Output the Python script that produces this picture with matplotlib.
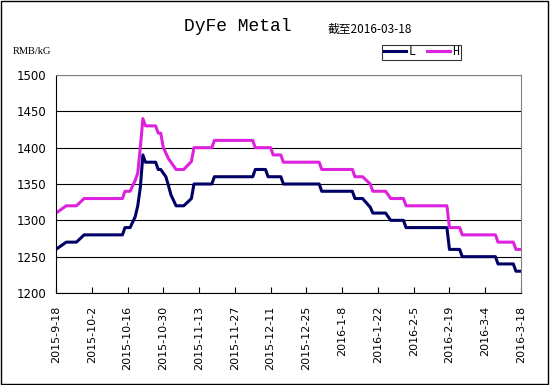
import matplotlib
matplotlib.use("Agg")
import matplotlib.pyplot as plt
import pandas as pd

# breakpoints (date, price RMB/kG)
l_dates = ["2015-09-18", "2015-09-22", "2015-09-26", "2015-09-29", "2015-10-14",
           "2015-10-15", "2015-10-17", "2015-10-19", "2015-10-20", "2015-10-21",
           "2015-10-22", "2015-10-23", "2015-10-27", "2015-10-28", "2015-10-29",
           "2015-10-31", "2015-11-01", "2015-11-02", "2015-11-04", "2015-11-07",
           "2015-11-10", "2015-11-11", "2015-11-18", "2015-11-19", "2015-12-04",
           "2015-12-05", "2015-12-09", "2015-12-10", "2015-12-15", "2015-12-16",
           "2015-12-30", "2015-12-31", "2016-01-12", "2016-01-13", "2016-01-16",
           "2016-01-19", "2016-01-20", "2016-01-25", "2016-01-27", "2016-02-01",
           "2016-02-02", "2016-02-18", "2016-02-19", "2016-02-23", "2016-02-24",
           "2016-03-08", "2016-03-09", "2016-03-15", "2016-03-16", "2016-03-18"]
l_vals = [1260, 1270, 1270, 1280, 1280,
          1290, 1290, 1305, 1320, 1345,
          1390, 1380, 1380, 1370, 1370,
          1360, 1348, 1335, 1320, 1320,
          1330, 1350, 1350, 1360, 1360,
          1370, 1370, 1360, 1360, 1350,
          1350, 1340, 1340, 1330, 1330,
          1318, 1310, 1310, 1300, 1300,
          1290, 1290, 1260, 1260, 1250,
          1250, 1240, 1240, 1230, 1230]

h_dates = ["2015-09-18", "2015-09-22", "2015-09-26", "2015-09-29", "2015-10-14",
           "2015-10-15", "2015-10-17", "2015-10-19", "2015-10-20", "2015-10-21",
           "2015-10-22", "2015-10-23", "2015-10-27", "2015-10-28", "2015-10-29",
           "2015-10-30", "2015-11-01", "2015-11-04", "2015-11-07", "2015-11-10",
           "2015-11-11", "2015-11-18", "2015-11-19", "2015-12-04", "2015-12-05",
           "2015-12-11", "2015-12-12", "2015-12-15", "2015-12-16", "2015-12-30",
           "2015-12-31", "2016-01-12", "2016-01-13", "2016-01-16", "2016-01-19",
           "2016-01-20", "2016-01-25", "2016-01-27", "2016-02-01", "2016-02-02",
           "2016-02-18", "2016-02-19", "2016-02-23", "2016-02-24", "2016-03-08",
           "2016-03-09", "2016-03-15", "2016-03-16", "2016-03-18"]
h_vals = [1310, 1320, 1320, 1330, 1330,
          1340, 1340, 1355, 1365, 1400,
          1440, 1430, 1430, 1420, 1420,
          1400, 1385, 1370, 1370, 1381,
          1400, 1400, 1410, 1410, 1400,
          1400, 1390, 1390, 1380, 1380,
          1370, 1370, 1360, 1360, 1350,
          1340, 1340, 1330, 1330, 1320,
          1320, 1290, 1290, 1280, 1280,
          1270, 1270, 1260, 1260]

tick_dates = pd.date_range("2015-09-18", "2016-03-18", freq="14D")
tick_labels = [f"{d.year}-{d.month}-{d.day}" for d in tick_dates]
y_ticks = [1200, 1250, 1300, 1350, 1400, 1450, 1500]

fig = plt.figure(figsize=(5.5, 3.85), dpi=100)
ax = fig.add_axes([56 / 550, 1 - 293 / 385, 465 / 550, 218 / 385])

ax.plot(pd.to_datetime(l_dates), l_vals, color="#000066", lw=2.2, label="L")
ax.plot(pd.to_datetime(h_dates), h_vals, color="#DD22DD", lw=2.2, label="H")

ax.set_ylim(1200, 1500)
ax.set_yticks(y_ticks)
ax.set_xlim(tick_dates[0], tick_dates[-1])
ax.set_xticks(tick_dates)
ax.set_xticklabels(tick_labels, rotation=90, fontsize=8, va="top", ha="center")
ax.tick_params(axis="x", direction="in", length=4, width=0.8, pad=9)
ax.tick_params(axis="y", length=0, labelsize=8.5, pad=7)
ax.grid(axis="y", color="black", lw=0.8)
ax.set_axisbelow(True)
for s in ["top", "right"]:
    ax.spines[s].set_color("#808080")
for s in ["left", "bottom"]:
    ax.spines[s].set_color("black")

fig.text(0.433, 0.93, "DyFe Metal", family="Liberation Mono", fontsize=13,
         ha="center", va="center")
fig.text(0.596, 0.924, "截至2016-03-18", family=["Noto Sans CJK SC", "DejaVu Sans"],
         fontsize=8.5, ha="left", va="center")
fig.text(0.024, 0.866, "RMB/kG", family="Liberation Serif", fontsize=7.5,
         ha="left", va="center")

leg = fig.legend(loc="center", bbox_to_anchor=(0.766, 0.864), ncol=2,
                 prop={"family": "Liberation Mono", "size": 8.5},
                 frameon=True, fancybox=False, handlelength=1.9, handletextpad=0.2,
                 columnspacing=1.0, borderpad=0.15, borderaxespad=0)
leg.get_frame().set_edgecolor("black")
leg.get_frame().set_linewidth(0.8)

# outer frame
fig.patches.append(plt.Rectangle((0.002, 0.003), 0.995, 0.994, transform=fig.transFigure,
                                 fill=False, edgecolor="black", lw=1))

fig.savefig("out.png", dpi=100)
